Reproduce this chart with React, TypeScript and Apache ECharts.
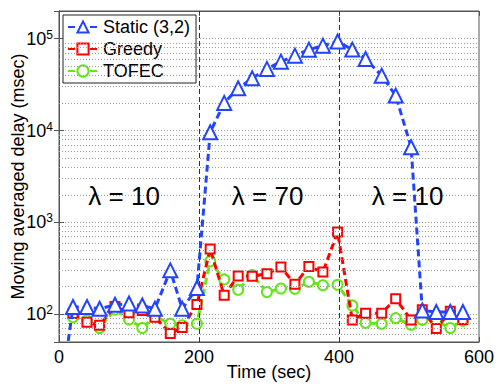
import React, { useEffect, useRef } from 'react';
import * as echarts from 'echarts';

const FONT = 'Liberation Sans, Arial, Helvetica, sans-serif';

// Time stamps (sec)
const staticTimes = [0, 20, 40, 58, 80, 100, 119, 137, 159, 176, 197, 216, 236, 256, 276, 297, 317, 337, 357, 377, 398, 419, 438, 461, 481, 503, 519, 539, 559, 577];
const times = [20, 40, 58, 80, 100, 119, 137, 159, 176, 197, 216, 236, 256, 276, 297, 317, 337, 357, 377, 398, 419, 438, 461, 481, 503, 519, 539, 559, 577];

// Moving averaged delay (msec)
const staticValues = [10, 120, 120, 115, 127, 131, 125, 115, 301, 115, 193, 9600, 20000, 28800, 37000, 46900, 56200, 65300, 75900, 83900, 93000, 76000, 60100, 39600, 24000, 6580, 110, 106, 106, 106];
const greedyValues = [102, 82, 76, 122, 104, 110, 93, 62, 72, 128, 515, 161, 262, 259, 277, 327, 212, 332, 288, 785, 87, 103, 103, 148, 87, 112, 70, 108, 88];
const tofecValues = [93, 86, 71, 113, 88, 71, 95, 79, 76, 79, 378, 240, 185, 268, 175, 191, 190, 226, 207, 210, 125, 81, 79, 91, 77, 87, 84, 71, 85];

const seriesNames = ['Static (3,2)', 'Greedy', 'TOFEC'];

// Minor grid lines (log scale)
const minorGrid = [60, 70, 80, 90, 200, 300, 400, 500, 600, 700, 800, 900, 2000, 3000, 4000, 5000, 6000, 7000, 8000, 9000, 20000, 30000, 40000, 50000, 60000, 70000, 80000, 90000];
// Phase boundaries (sec)
const phaseBoundaries = [200, 400];
// Phase annotations
const lambdaLabels = ['λ = 10', 'λ = 70', 'λ = 10'];
const lambdaTimes = [93, 298, 498];
const lambdaLevel = 1950;

const zip = (xs: number[], ys: number[]) => xs.map((x, i) => [x, ys[i]]);

export default function App() {
  const ref = useRef<HTMLDivElement>(null);
  useEffect(() => {
    if (!ref.current) return;
    const chart = echarts.init(ref.current, undefined, { renderer: 'svg' });
    const axisColor = '#555';
    const gridLine = { color: '#9a9a9a', type: [1, 2] as any, width: 1 };
    chart.setOption({
      animation: false,
      backgroundColor: '#fff',
      grid: {
        left: 59, right: 19, top: 11, bottom: 45, show: true,
        borderColor: axisColor, borderWidth: 1, backgroundColor: '#fff',
        containLabel: false, outerBoundsMode: 'none',
      },
      legend: {
        data: seriesNames,
        orient: 'vertical',
        left: 63,
        top: 15,
        backgroundColor: '#fff',
        borderColor: '#222',
        borderWidth: 1,
        borderRadius: 0,
        padding: [3, 6, 3, 4],
        itemGap: 4,
        itemWidth: 30,
        itemHeight: 14,
        textStyle: { fontSize: 18, fontFamily: FONT, color: '#000' },
      },
      xAxis: [
        {
          type: 'value', min: 0, max: 600, interval: 200,
          name: 'Time (sec)', nameLocation: 'middle', nameGap: 21, nameMoveOverlap: false,
          nameTextStyle: { fontSize: 18, fontFamily: FONT, color: '#000' },
          axisLine: { show: true, lineStyle: { color: axisColor } },
          axisTick: { show: true, inside: true, length: 5, lineStyle: { color: axisColor } },
          axisLabel: { fontSize: 18, fontFamily: FONT, color: '#000', margin: 6 },
          splitLine: { show: false },
        },
        {
          type: 'value', position: 'top', min: 0, max: 600, interval: 200,
          axisLine: { show: true, lineStyle: { color: axisColor } },
          axisTick: { show: true, inside: true, length: 5, lineStyle: { color: axisColor } },
          axisLabel: { show: false },
          splitLine: { show: false },
        },
      ],
      yAxis: [
        {
          type: 'log', logBase: 10, min: 50, max: 200000,
          name: 'Moving averaged delay (msec)', nameLocation: 'middle', nameGap: 32, nameMoveOverlap: false,
          nameTextStyle: { fontSize: 18, fontFamily: FONT, color: '#000' },
          axisLine: { show: true, lineStyle: { color: axisColor } },
          axisTick: { show: true, inside: true, length: 5, lineStyle: { color: axisColor } },
          axisLabel: {
            margin: 6,
            formatter: (v: number) => {
              const l = Math.log10(v);
              const e = Math.round(l);
              if (Math.abs(l - e) > 1e-6) return '';
              return `{b|10}{s|${e}}`;
            },
            rich: {
              b: { fontSize: 18, fontFamily: FONT, color: '#000', lineHeight: 20, verticalAlign: 'middle' },
              s: { fontSize: 12, fontFamily: FONT, color: '#000', lineHeight: 12, verticalAlign: 'top' },
            },
          },
          splitLine: { show: true, lineStyle: gridLine },
        },
        {
          type: 'log', logBase: 10, min: 50, max: 200000, position: 'right',
          axisLine: { show: true, lineStyle: { color: axisColor } },
          axisTick: { show: true, inside: true, length: 5, lineStyle: { color: axisColor } },
          axisLabel: { show: false },
          splitLine: { show: false },
        },
      ],
      series: [
        {
          type: 'line', name: '_grid', data: [], z: 1, silent: true,
          markLine: {
            silent: true, symbol: ['none', 'none'], label: { show: false },
            lineStyle: gridLine,
            data: [
              ...minorGrid.map((v) => ({ yAxis: v })),
              ...phaseBoundaries.map((t) => ({ xAxis: t, lineStyle: { color: '#333', type: [5, 3], width: 1 } })),
            ],
          },
        },
        {
          type: 'line', name: seriesNames[2], data: zip(times, tofecValues), z: 3,
          symbol: 'emptyCircle', symbolSize: 10,
          lineStyle: { color: '#62e815', width: 3, type: [7, 4] },
          itemStyle: { color: '#62e815', borderWidth: 3 },
        },
        {
          type: 'line', name: seriesNames[1], data: zip(times, greedyValues), z: 4,
          symbol: 'emptyRect', symbolSize: 9,
          lineStyle: { color: '#ff0000', width: 3, type: [7, 4] },
          itemStyle: { color: '#ff0000', borderWidth: 3.5 },
        },
        {
          type: 'line', name: seriesNames[0], data: zip(staticTimes, staticValues), z: 5,
          symbol: 'emptyTriangle', symbolSize: 14,
          lineStyle: { color: '#2244ff', width: 3, type: [7, 4] },
          itemStyle: { color: '#2244ff', borderWidth: 3 },
        },
      ],
    });
    const graphics = lambdaLabels.map((t, i) => {
      const p = chart.convertToPixel({ gridIndex: 0 }, [lambdaTimes[i], lambdaLevel]) as number[];
      return {
        type: 'text', x: p[0], y: p[1], z: 10,
        style: { text: t, fontSize: 26, fontFamily: FONT, fill: '#000', align: 'center', verticalAlign: 'middle' },
      };
    });
    chart.setOption({ graphic: graphics });
    return () => chart.dispose();
  }, []);
  return <div ref={ref} style={{ position: 'fixed', left: 0, top: 0, width: 498, height: 387 }} />;
}
